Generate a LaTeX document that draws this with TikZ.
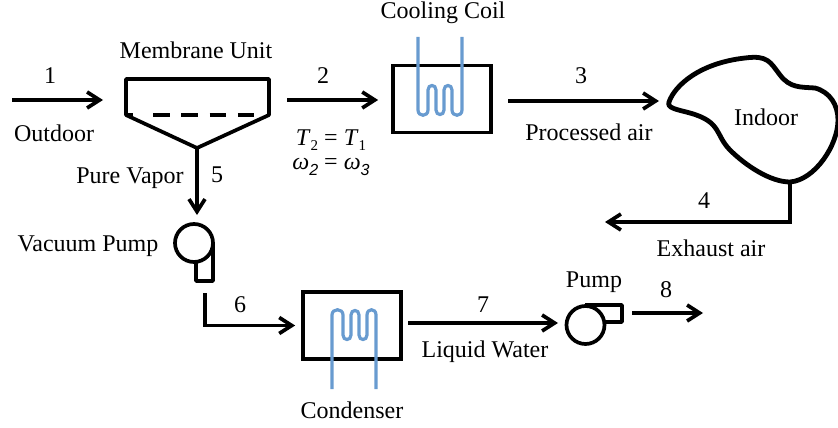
\documentclass[tikz,border=0pt]{standalone}
\usepackage{fontspec}
\setmainfont{Liberation Serif}
\usetikzlibrary{positioning,arrows.meta}
\newfontfamily\idxfont{Liberation Sans}
\newcommand{\lowidx}[1]{\raisebox{-5pt}{\fontsize{15}{15}\selectfont #1}}
\newcommand{\lowomega}[1]{\raisebox{-6pt}{\fontsize{16}{16}\selectfont\idxfont\itshape #1}}

\begin{document}
\begin{tikzpicture}[
        x=1pt, y=-1pt,
        flow/.style={line width=3.7pt, -{Straight Barb[length=12.5pt,width=16pt,line width=3.7pt]}},
        pipe/.style={line width=3.7pt},
        hxbox/.style={rectangle, draw, line width=3.7pt, minimum width=98pt, minimum height=67pt},
        pumpbody/.style={circle, draw, fill=white, line width=3.7pt, minimum size=38pt},
        coolant/.style={draw=coilblue, line width=3.2pt},
        lbl/.style={inner sep=0pt, font=\fontsize{24}{28}\selectfont},
    ]
    \definecolor{coilblue}{RGB}{104,155,208}
    \useasboundingbox (0,0) rectangle (838,428);

    %Coordinates: membrane unit
    \coordinate (mem_tl) at (126,79);
    \coordinate (mem_tr) at (269,79);
    \coordinate (mem_br) at (269,115);
    \coordinate (mem_bl) at (126,115);
    \coordinate (mem_tip) at (197,148);

    %Coordinates: free ends of the connectors
    \coordinate (in1) at (12,100);
    \coordinate (in1_end) at (103,100);
    \coordinate (out2) at (287,100);
    \coordinate (out3) at (508,101);
    \coordinate (in3_end) at (659,101);
    \coordinate (in5_end) at (197,215);
    \coordinate (out6) at (205,293);
    \coordinate (out7) at (408,323);
    \coordinate (in7_end) at (558,323);
    \coordinate (out8) at (632,313);
    \coordinate (in8_end) at (703,313);
    \coordinate (indoor_out) at (790,182);
    \coordinate (in4_end) at (605,222);

    %Nodes: heat exchangers
    \node[hxbox] (coil)      at (442,99)  {};
    \node[hxbox] (condenser) at (352,325.5) {};

    %Nodes: pumps
    \draw[pipe, line join=round] (196,262) -- (196,281) -- (213,281) -- (213,243);
    \node[pumpbody] (vacpump) at (194,243) {};
    \draw[pipe, line join=round] (585,305) -- (622,305) -- (622,322) -- (604,322);
    \node[pumpbody] (pump) at (585.5,325) {};

    %Membrane unit
    \draw[pipe, line join=round] (mem_bl) -- (mem_tl) -- (mem_tr) -- (mem_br) -- (mem_tip) -- cycle;
    \draw[pipe, dash pattern=on 16.5pt off 11.8pt] (153,115) -- (254,115);
    \draw[pipe] (mem_bl) -- (133,115);

    %Indoor space
    \draw[line width=4.8pt, line join=round] (669,102)
        .. controls (675,85) and (700,63) .. (745,58)
        .. controls (768,55) and (770,62) .. (780,75)
        .. controls (790,88) and (800,87) .. (815,88)
        .. controls (830,92) and (838,105) .. (838,120)
        .. controls (838,145) and (815,180) .. (790,182)
        .. controls (770,182) and (745,165) .. (730,150)
        .. controls (715,135) and (722,122) .. (690,113)
        .. controls (675,109) and (667,108) .. (669,102) -- cycle;

    %Cooling coil
    \draw[coolant] (418,37) -- (418,110)
        .. controls (418,117) and (428,117) .. (428,110) -- (428,90)
        .. controls (428,84) and (436,84) .. (436,90) -- (436,110)
        .. controls (436,116) and (444,116) .. (444,110) -- (444,90)
        .. controls (444,84) and (452,84) .. (452,90) -- (452,110)
        .. controls (452,117) and (462,117) .. (462,110) -- (462,37);

    %Condenser coil
    \draw[coolant] (332,389) -- (332,315)
        .. controls (332,308) and (343,308) .. (343,315) -- (343,335)
        .. controls (343,341) and (351,341) .. (351,335) -- (351,315)
        .. controls (351,309) and (359,309) .. (359,315) -- (359,335)
        .. controls (359,341) and (367,341) .. (367,335) -- (367,315)
        .. controls (367,308) and (376,308) .. (376,315) -- (376,389);

    %Lines: connections between nodes
    \draw[flow] (in1) -- (in1_end);
    \draw[flow] (out2) -- ([xshift=-13pt]coil.west |- out2);
    \draw[flow] (out3) -- (in3_end);
    \draw[flow, line join=miter] (indoor_out) |- (in4_end);
    \draw[flow] (mem_tip) -- (in5_end);
    \draw[flow, line join=miter] (out6) |- ([xshift=-6pt]condenser.west);
    \draw[flow] (out7) -- (in7_end);
    \draw[flow] (out8) -- (in8_end);

    %Labels: numbers
    \node[lbl] (num1) at (50,76)   {1};
    \node[lbl] (num2) at (323,76)  {2};
    \node[lbl] (num3) at (581,76)  {3};
    \node[lbl] (num4) at (704,201) {4};
    \node[lbl] (num5) at (217,175) {5};
    \node[lbl] (num6) at (240,305) {6};
    \node[lbl] (num7) at (483,305) {7};
    \node[lbl] (num8) at (666,290) {8};

    %Labels: names
    \node[lbl] (outdoor)   at (54,133)  {Outdoor};
    \node[lbl] (memlabel)  at (196,50)  {Membrane Unit};
    \node[lbl] (coillabel) at (443,13)  {Cooling Coil};
    \node[lbl] (processed) at (589,132) {Processed air};
    \node[lbl] (indoor)    at (766,117) {Indoor};
    \node[lbl] (exhaust)   at (711,248) {Exhaust air};
    \node[lbl] (purevapor) at (130,178) {Pure Vapor};
    \node[lbl] (vaclabel)  at (88,246)  {Vacuum Pump};
    \node[lbl] (condlabel) at (352,410) {Condenser};
    \node[lbl] (water)     at (485,352) {Liquid Water};
    \node[lbl] (pumplabel) at (594,282) {Pump};

    %Labels: state relations
    \node[lbl] (tempeq)  at (331,140) {\textit{T}\lowidx{2} = \textit{T}\lowidx{1}};
    \node[lbl] (humideq) at (331,167) {\textit{ω}\lowomega{2} = \textit{ω}\lowomega{3}};
\end{tikzpicture}
\end{document}
